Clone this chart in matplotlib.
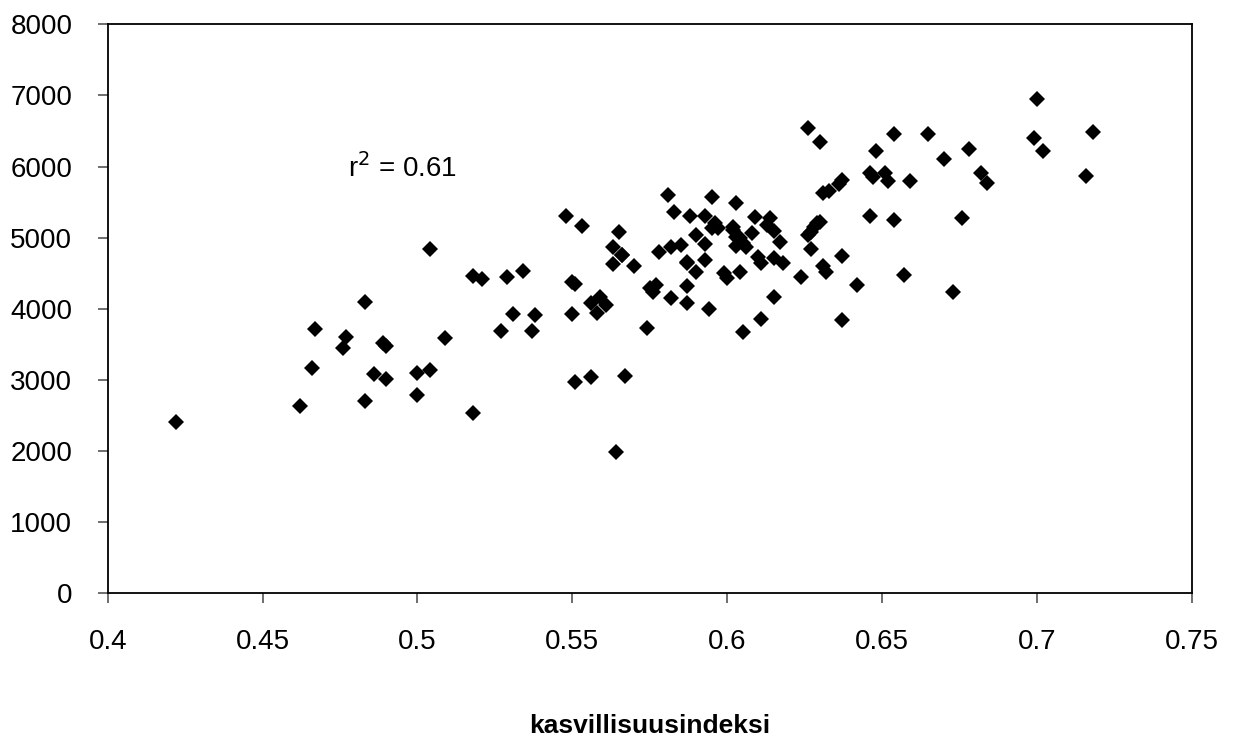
import numpy as np
from matplotlib import pyplot as plt

plt.rcParams['font.family'] = ['Liberation Sans', 'DejaVu Sans']

# kasvillisuusindeksi vs. value
x_vals = [0.422, 0.462, 0.466, 0.467, 0.476, 0.477, 0.483, 0.483, 0.486, 0.489,
          0.490, 0.490, 0.500, 0.500, 0.504, 0.504, 0.509, 0.518, 0.518, 0.521,
          0.527, 0.529, 0.531, 0.534, 0.537, 0.538, 0.548, 0.550, 0.551, 0.550,
          0.551, 0.553, 0.556, 0.556, 0.559, 0.558, 0.561, 0.563, 0.563, 0.564,
          0.565, 0.566, 0.566, 0.570, 0.567, 0.574, 0.575, 0.576, 0.577, 0.578,
          0.581, 0.582, 0.583, 0.582, 0.585, 0.587, 0.587, 0.587, 0.587, 0.588,
          0.590, 0.593, 0.593, 0.593, 0.595, 0.595, 0.594, 0.596, 0.599, 0.600,
          0.602, 0.602, 0.603, 0.603, 0.603, 0.604, 0.605, 0.605, 0.606, 0.608,
          0.609, 0.610, 0.611, 0.611, 0.613, 0.614, 0.615, 0.615, 0.615, 0.617,
          0.618, 0.624, 0.626, 0.626, 0.627, 0.627, 0.628, 0.629, 0.630, 0.630,
          0.631, 0.631, 0.632, 0.633, 0.636, 0.637, 0.637, 0.637, 0.642, 0.646,
          0.646, 0.648, 0.647, 0.651, 0.652, 0.654, 0.654, 0.657, 0.659, 0.665,
          0.670, 0.673, 0.676, 0.678, 0.682, 0.684, 0.699, 0.700, 0.702, 0.716,
          0.718, 0.604, 0.597, 0.590]
y_vals = [2410, 2640, 3165, 3715, 3445, 3610, 4090, 2705, 3080, 3515,
          3480, 3015, 3095, 2790, 3140, 4845, 3595, 4460, 2530, 4415,
          3695, 4445, 3930, 4535, 3695, 3915, 5300, 4380, 4350, 3930,
          2965, 5165, 3040, 4075, 4170, 3940, 4055, 4875, 4630, 1980,
          5075, 4760, 4750, 4595, 3055, 3735, 4290, 4230, 4335, 4805,
          5600, 4155, 5365, 4875, 4900, 4320, 4080, 4665, 4640, 5310,
          5035, 4690, 5305, 4910, 5570, 5135, 3995, 5200, 4500, 4430,
          5110, 5155, 5015, 4885, 5490, 4520, 3680, 4920, 4870, 5070,
          5295, 4735, 4640, 3860, 5180, 5275, 5095, 4710, 4170, 4945,
          4640, 4450, 6545, 5040, 5085, 4835, 5155, 5200, 6340, 5225,
          5625, 4595, 4520, 5650, 5760, 3840, 4745, 5810, 4330, 5910,
          5310, 6215, 5860, 5910, 5790, 6460, 5250, 4470, 5800, 6455,
          6100, 4240, 5270, 6250, 5905, 5775, 6400, 6955, 6220, 5870,
          6490, 5000, 5130, 4520]

r2_text = 'r$^2$ = 0.61'

fig = plt.figure(figsize=(12.34, 7.41), dpi=100)
ax = fig.add_axes([0.0873, 0.1993, 0.8784, 0.7679])

ax.plot(x_vals, y_vals, linestyle='none', marker='D', markersize=8,
        markerfacecolor='black', markeredgewidth=0)

ax.set_xlim(0.4, 0.75)
ax.set_ylim(0, 8000)
ax.set_xticks(np.arange(0.4, 0.751, 0.05))
ax.set_xticklabels(['0.4', '0.45', '0.5', '0.55', '0.6', '0.65', '0.7', '0.75'])
ax.set_yticks(np.arange(0, 8001, 1000))

for s in ax.spines.values():
    s.set_linewidth(1.3)
    s.set_color('black')
ax.tick_params(axis='both', direction='out', length=7.5, width=1.2,
               color='#555555', labelsize=20, pad=18)

ax.text(0.4775, 5980, r2_text, fontsize=20, va='center', ha='left')

ax.set_xlabel('kasvillisuusindeksi', fontsize=19, fontweight='bold')
ax.xaxis.set_label_coords(0.5, -0.212)
ax.xaxis.label.set_va('top')

fig.savefig('out.png', dpi=100)
